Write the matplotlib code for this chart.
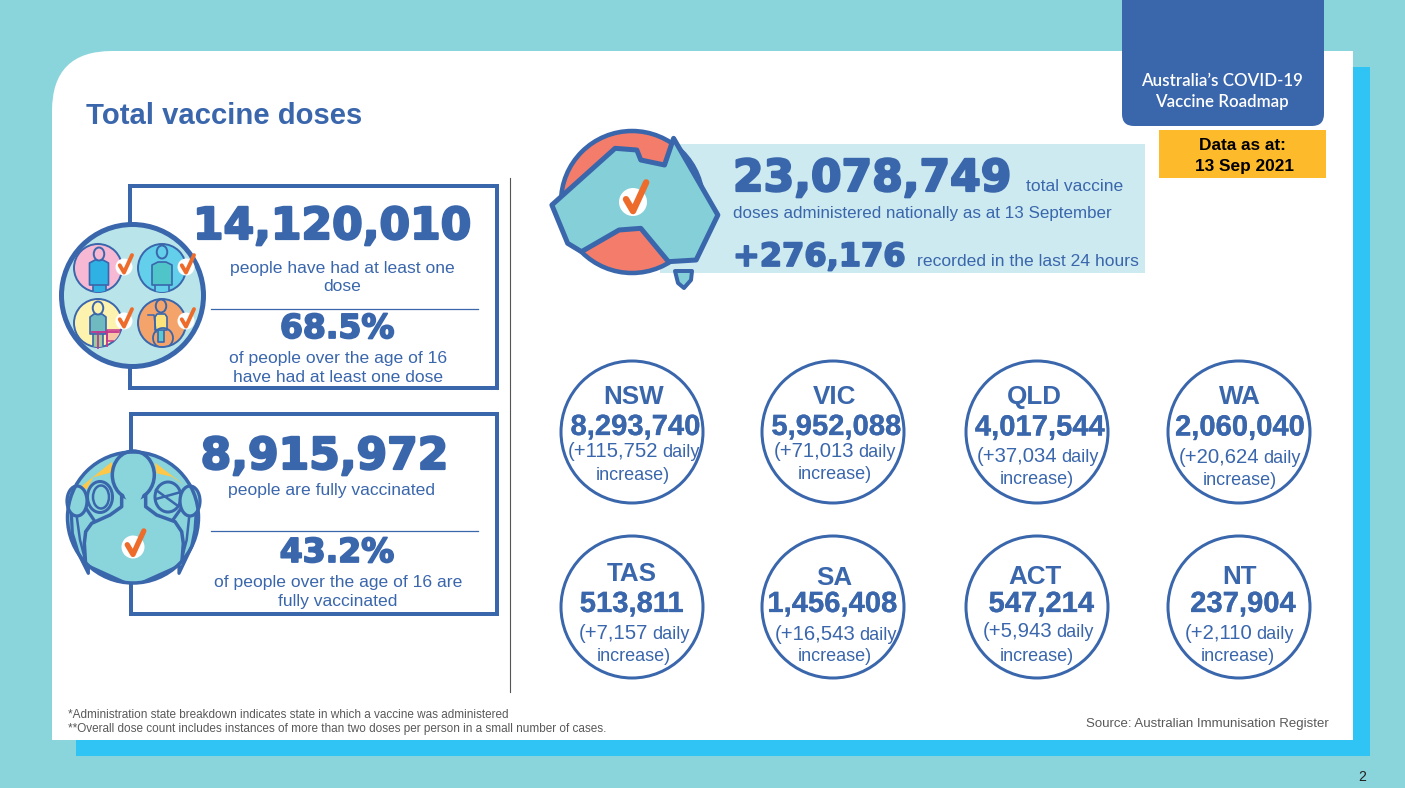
import matplotlib
matplotlib.use("Agg")
import matplotlib.pyplot as plt
import matplotlib.patheffects as pe
from matplotlib.patches import Circle, Ellipse, FancyBboxPatch, Polygon, Rectangle

# values
states = ['NSW', 'VIC', 'QLD', 'WA', 'TAS', 'SA', 'ACT', 'NT']
state_totals = ['8,293,740', '5,952,088', '4,017,544', '2,060,040', '513,811', '1,456,408', '547,214', '237,904']
state_daily = ['+115,752', '+71,013', '+37,034', '+20,624', '+7,157', '+16,543', '+5,943', '+2,110']
national_total = '23,078,749'
national_daily = '+276,176'
one_dose = '14,120,010'
one_dose_pct = '68.5%'
full_dose = '8,915,972'
full_dose_pct = '43.2%'

BLUE = '#3A66AC'
TEAL = '#8AD4DB'
SKY = '#2FC4F4'
ORANGE = '#EE6C2B'
HEAVY = ['DejaVu Sans']

# ring centre, then (x, baseline) of name, total, daily line, last line
layout = [((632, 432), (634, 404), (635.5, 435), (634, 457), (633, 480)),
          ((833, 432), (834.5, 404), (836.5, 435), (834.5, 457), (834.5, 478.5)),
          ((1037, 432), (1034, 404), (1040, 435.5), (1038, 462), (1037, 483.5)),
          ((1239, 432), (1240, 404), (1240, 435.5), (1240, 463), (1240, 484.5)),
          ((632, 607), (632, 581), (632, 612), (634, 639), (634, 661)),
          ((833, 607), (834.5, 585), (832.5, 612), (835.5, 640), (835, 661)),
          ((1037, 607), (1035, 584), (1041.5, 612), (1038, 637), (1037, 661)),
          ((1239, 607), (1240, 584), (1243, 612), (1239, 639), (1238, 661))]

plt.rcParams['font.family'] = ['Liberation Sans', 'DejaVu Sans']
fig = plt.figure(figsize=(14.05, 7.88), dpi=100, facecolor=TEAL)
ax = fig.add_axes([0, 0, 1, 1])
ax.set_xlim(0, 1405)
ax.set_ylim(788, 0)
ax.axis('off')


def px(size):
    return size * 0.72


def txt(x, y, s, size, color=BLUE, ha='center', weight='normal', heavy=0, family=None, z=10):
    t = ax.text(x, y, s, fontsize=px(size), color=color, ha=ha, va='baseline',
                fontweight=weight, zorder=z)
    if family:
        t.set_fontfamily(family)
    if heavy:
        t.set_path_effects([pe.withStroke(linewidth=heavy, foreground=color)])
    return t


def check(x, y, r, z=8):
    ax.add_patch(Circle((x, y), r, fc='white', ec='none', zorder=z))
    s = r / 10.0
    ax.plot([x - 5*s, x, x + 9.4*s], [y - 2*s, y + 6.5*s, y - 14*s], color=ORANGE,
            lw=px(4.6*s), solid_capstyle='round', solid_joinstyle='round', zorder=z + 1)


def shape(pts, fc, clip=None, z=6, lw=1.2, ec=BLUE):
    p = Polygon(pts, closed=True, fc=fc, ec=ec, lw=lw, joinstyle='round', zorder=z)
    ax.add_patch(p)
    if clip is not None:
        p.set_clip_path(clip)
    return p


def from_zoom(pts, x0=55, y0=440):
    return [(x0 + a / 3, y0 + b / 3) for a, b in pts]


# slide background
ax.add_patch(Rectangle((76, 67), 1294, 689, fc=SKY, ec='none', zorder=1))
ax.add_patch(FancyBboxPatch((52 + 60, 51 + 60), 1301 - 120, 689 - 120,
                            boxstyle='round,pad=60,rounding_size=60', fc='white', ec='none', zorder=2))
ax.add_patch(Rectangle((1200, 51), 153, 200, fc='white', ec='none', zorder=2))
ax.add_patch(Rectangle((52, 600), 200, 140, fc='white', ec='none', zorder=2))
ax.add_patch(Rectangle((1200, 600), 153, 140, fc='white', ec='none', zorder=2))

# header tab
ax.add_patch(FancyBboxPatch((1122 + 12, -30), 202 - 24, 144, boxstyle='round,pad=12,rounding_size=12',
                            fc=BLUE, ec='none', zorder=3))
txt(1222, 86, "Australia\u2019s COVID-19", 16.9, 'white', weight='semibold', family=['Lato', 'DejaVu Sans'])
txt(1222, 107, 'Vaccine Roadmap', 16.9, 'white', weight='semibold', family=['Lato', 'DejaVu Sans'])
ax.add_patch(Rectangle((1159, 130), 167, 48, fc='#FDBB2C', ec='none', zorder=3))
txt(1242, 150, 'Data as at:', 17.2, 'black', weight='bold')
txt(1244.5, 171, '13 Sep 2021', 17.2, 'black', weight='bold')

txt(86, 124, 'Total vaccine doses', 29.3, ha='left', weight='bold')
ax.plot([510, 510], [178, 692], color='#555555', lw=0.8, zorder=3)

# left boxes
ax.add_patch(Rectangle((130, 186), 367, 202, fc='white', ec=BLUE, lw=px(4), zorder=3))
ax.add_patch(Rectangle((131, 414), 366, 200, fc='white', ec=BLUE, lw=px(4), zorder=3))
txt(332, 239, one_dose, 44, weight='bold', heavy=1.6, family=HEAVY)
txt(342, 273, 'people have had at least one', 17.5)
txt(342, 291, 'dose', 17.5)
ax.plot([211, 478], [308.5, 308.5], color=BLUE, lw=0.9, zorder=4)
txt(337, 338, one_dose_pct, 33, weight='bold', heavy=1.3, family=HEAVY)
txt(338, 363, 'of people over the age of 16', 17.5)
txt(338, 382, 'have had at least one dose', 17.5)

txt(324.5, 469, full_dose, 44, weight='bold', heavy=1.6, family=HEAVY)
txt(332, 495, 'people are fully vaccinated', 17.5)
ax.plot([211, 478], [531, 531], color=BLUE, lw=0.9, zorder=4)
txt(337, 562, full_dose_pct, 33, weight='bold', heavy=1.3, family=HEAVY)
txt(338, 587, 'of people over the age of 16 are', 17.5)
txt(338, 606, 'fully vaccinated', 17.5)

# icon with four people
ax.add_patch(Circle((132.5, 295.5), 71, fc='#B9E5EA', ec=BLUE, lw=px(5), zorder=5))
discs = {}
for key, x, y, col in [('nurse', 98, 268, '#F6B8D3'), ('para', 162, 268, '#63CFEA'),
                       ('walker', 98, 323, '#FDF3AE'), ('chair', 162, 323, '#F4A46A')]:
    d = Circle((x, y), 24, fc=col, ec=BLUE, lw=1.4, zorder=5)
    ax.add_patch(d)
    discs[key] = d


def figure(key, cx, head_y, top, waist, hem, half, body, legs, face):
    d = discs[key]
    shape([(cx - half + 3, hem), (cx + half - 3, hem), (cx + half - 3, waist), (cx - half + 3, waist)], legs, d)
    shape([(cx - 4, top), (cx + 4, top), (cx + half, top + 3), (cx + half, waist + 2), (cx - half, waist + 2),
           (cx - half, top + 3)], body, d)
    ax.add_patch(Ellipse((cx, head_y), 10.5, 13, fc=face, ec=BLUE, lw=1.4, zorder=6.5))


figure('nurse', 99, 254, 260, 283, 293, 9.5, '#2FB1E3', '#2FB1E3', '#F6B8D3')
figure('para', 162, 252, 262, 283, 293, 10, '#4FC4C9', '#63CFEA', '#63CFEA')
figure('walker', 98, 308, 314, 332, 348, 8, '#6FB9C0', '#9CCB9E', '#FDF3AE')
figure('chair', 161, 306, 314, 328, 342, 6, '#FCE37C', '#5CC9CE', '#F4A46A')

# walking frame and wheelchair
for xs, ys in [([92, 118], [332, 332]), ([98, 98], [332, 348]), ([107, 107], [332, 346])]:
    ax.plot(xs, ys, color='#C2368F', lw=1.3, zorder=6.6)
frame = Rectangle((107, 330), 13, 11, fc='#F7C6A5', ec='#C2368F', lw=1.1, zorder=6.5)
ax.add_patch(frame)
frame.set_clip_path(discs['walker'])
wheel = Circle((163, 338), 10, fc='none', ec=BLUE, lw=1.3, zorder=6.6)
ax.add_patch(wheel)
wheel.set_clip_path(discs['chair'])
ax.plot([148, 154, 156], [315, 315, 332], color=BLUE, lw=1.1, zorder=6.6)

for x, y in [(124, 267), (186, 267), (124, 321), (186, 321)]:
    check(x, y, 8.5, z=7)

# icon with the crowd
crowd = Circle((133, 517.5), 65.5, fc=TEAL, ec='none', zorder=5)
ax.add_patch(crowd)
shape(from_zoom([(78, 140), (170, 66), (178, 95), (115, 112), (95, 148)]), '#FDC84A', crowd, z=5.1, lw=0)
shape(from_zoom([(300, 68), (388, 135), (350, 110), (305, 100)]), '#FDC84A', crowd, z=5.1, lw=0)
ax.add_patch(Ellipse((100, 497), 25, 31, fc=TEAL, ec=BLUE, lw=px(3), zorder=5.3))
ax.add_patch(Ellipse((101, 497), 16, 23, fc=TEAL, ec=BLUE, lw=px(2.5), zorder=5.35))
ax.add_patch(Ellipse((168, 497), 26, 30, fc=TEAL, ec=BLUE, lw=px(3), zorder=5.3))
ax.plot([156, 178], [490, 506], color=BLUE, lw=px(2.5), zorder=5.35)
ax.plot([156, 181], [499, 492], color=BLUE, lw=px(2.5), zorder=5.35)
# outer figures peeking out at either side
shape(from_zoom([(48, 200), (90, 200), (120, 245), (100, 300), (100, 400), (70, 340), (52, 280)]), TEAL, None, z=5.5,
      lw=px(3.2))
shape(from_zoom([(425, 200), (382, 200), (350, 245), (372, 300), (372, 400), (410, 320), (420, 270)]), TEAL, None,
      z=5.5, lw=px(3.2))
ax.add_patch(Ellipse((77, 501), 20, 30, fc=TEAL, ec=BLUE, lw=px(3.2), zorder=5.55))
ax.add_patch(Ellipse((190, 501), 20, 30, fc=TEAL, ec=BLUE, lw=px(3.2), zorder=5.55))
ax.plot(*zip(*from_zoom([(66, 235), (75, 300), (92, 365)])), color=BLUE, lw=px(2.5), zorder=5.6)
ax.plot(*zip(*from_zoom([(402, 235), (395, 300), (378, 365)])), color=BLUE, lw=px(2.5), zorder=5.6)
# central figure
shape(from_zoom([(200, 150), (200, 200), (165, 225), (110, 250), (92, 275), (88, 310), (92, 375), (235, 440),
                 (380, 375), (385, 310), (380, 275), (360, 245), (305, 225), (272, 200), (272, 150)]),
      TEAL, crowd, z=6, lw=px(3.5))
ax.add_patch(Ellipse((133.3, 475), 42, 48, fc=TEAL, ec=BLUE, lw=px(3.5), zorder=6.1))
ax.add_patch(Ellipse((133.3, 482), 22, 46, fc=TEAL, ec='none', zorder=6.2))
ax.add_patch(Circle((133, 517.5), 65.5, fc='none', ec=BLUE, lw=px(3.5), zorder=6.5))
check(133, 547, 11.5, z=8)

# national panel
ax.add_patch(Rectangle((660, 144), 485, 129, fc='#CCEAF0', ec='none', zorder=3))
ax.add_patch(Circle((632, 202), 71, fc='#F47C6B', ec=BLUE, lw=px(4.5), zorder=4))
map_zoom = [(30, 255), (190, 85), (245, 90), (255, 120), (315, 135), (338, 55), (450, 285), (395, 420), (325, 425),
            (255, 325), (200, 330), (105, 395), (70, 370)]
shape([(540 + a / 2.53, 120 + b / 3) for a, b in map_zoom], '#85D0D8', None, z=5, lw=px(5))
shape([(675, 271), (692, 271), (691, 280), (684, 288), (678, 283)], '#85D0D8', None, z=5, lw=px(4))
check(633, 202, 14, z=6)
txt(733, 191, national_total, 44, ha='left', weight='bold', heavy=1.6, family=HEAVY)
txt(1026, 191, 'total vaccine', 17.5, ha='left')
txt(733, 218, 'doses administered nationally as at 13 September', 17, ha='left')
txt(733, 266, national_daily, 32, ha='left', weight='bold', heavy=1.3, family=HEAVY)
txt(917, 266, 'recorded in the last 24 hours', 17.5, ha='left')

# state rings
renderer = fig.canvas.get_renderer()
for i, name in enumerate(states):
    centre, p_name, p_total, p_daily, p_last = layout[i]
    ax.add_patch(Circle(centre, 71, fc='white', ec=BLUE, lw=px(3), zorder=4))
    txt(p_name[0], p_name[1], name, 26, weight='bold')
    txt(p_total[0], p_total[1], state_totals[i], 29.2, weight='bold', heavy=0.2)
    # the number is set a little larger than the word after it
    left = txt(0, p_daily[1], '(' + state_daily[i], 20.3, ha='left')
    right = txt(0, p_daily[1], 'daily', 18, ha='left')
    w1 = left.get_window_extent(renderer).width
    w2 = right.get_window_extent(renderer).width
    start = p_daily[0] - (w1 + 4 + w2) / 2
    left.set_x(start)
    right.set_x(start + w1 + 4)
    txt(p_last[0], p_last[1], 'increase)', 18)

# footer
txt(68, 718, '*Administration state breakdown indicates state in which a vaccine was administered', 11.8, '#595959', ha='left')
txt(68, 732, '**Overall dose count includes instances of more than two doses per person in a small number of cases.', 11.8, '#595959', ha='left')
txt(1329, 727, 'Source: Australian Immunisation Register', 13.2, '#595959', ha='right')
txt(1362, 781, '2', 14, '#222222')

fig.savefig('out.png', dpi=100, facecolor=TEAL)
